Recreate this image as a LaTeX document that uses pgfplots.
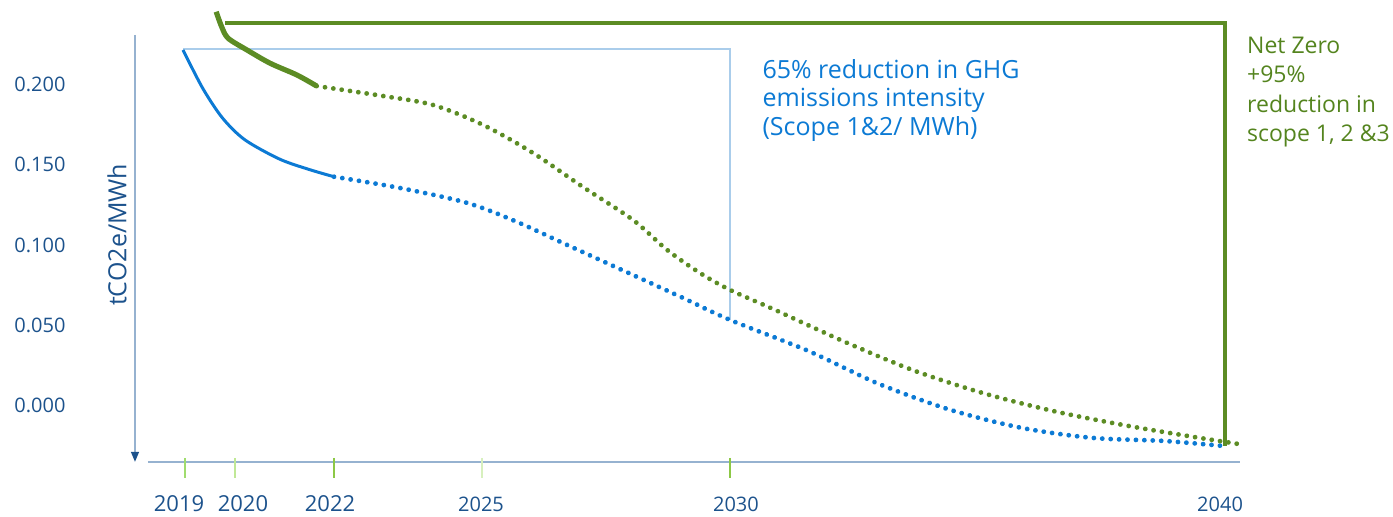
\documentclass[border=0pt]{standalone}
\usepackage{fontspec}
\setmainfont{Open Sans}
\usepackage{pgfplots}
\pgfplotsset{compat=1.18}
\usetikzlibrary{arrows.meta}
\definecolor{lblue}{RGB}{12,122,212}
\definecolor{gline}{RGB}{92,140,36}
\definecolor{gtext}{RGB}{84,132,30}
\definecolor{navy}{RGB}{28,82,140}
\definecolor{axisc}{RGB}{150,178,208}
\definecolor{boxblue}{RGB}{170,205,235}
\definecolor{tickA}{RGB}{160,220,110}
\definecolor{tickB}{RGB}{192,232,150}
\definecolor{tickC}{RGB}{140,200,70}
\definecolor{tickD}{RGB}{215,240,190}
\begin{document}
\begin{tikzpicture}
\path[use as bounding box] (0,0) rectangle (696.5pt,258.5pt);
\begin{axis}[
  at={(67.5pt,27.5pt)}, anchor=south west,
  scale only axis, width=552.5pt, height=213.5pt,
  xmin=2017.98, xmax=2040.303, ymin=-0.0352, ymax=0.2308,
  clip=false,
  axis line style={draw=none},
  tick style={draw=none},
  xtick={2018.87,2020.16,2021.92,2024.97,2030.12,2039.9},
  xticklabels={{\fontsize{11}{13}\selectfont 2019},{\fontsize{11}{13}\selectfont 2020},{\fontsize{11}{13}\selectfont 2022},2025,2030,2040},
  xticklabel style={anchor=center, yshift=-21pt, text=navy, font=\fontsize{10}{12}\selectfont},
  ytick={0,0.05,0.1,0.15,0.2},
  yticklabels={0.000,0.050,0.100,0.150,0.200},
  yticklabel style={anchor=center, xshift=-47.5pt, text=navy, font=\fontsize{10}{12}\selectfont},
  ylabel={tCO2e/MWh},
  ylabel style={at={(axis description cs:-0.0163,0.532)}, anchor=center, text=navy, font=\fontsize{12.5}{14}\selectfont},
  dotline/.style={line width=2.4pt, line cap=round, dash pattern=on 0.01pt off 4.2pt, smooth},
]
% axes decorations
\draw[axisc, line width=1pt] (axis cs:2018.24,-0.0352) -- (axis cs:2040.30,-0.0352);
\draw[axisc, line width=1pt, -{Triangle[length=5pt,width=3.8pt,color=navy]}] (axis cs:2017.98,0.2308) -- (axis cs:2017.98,-0.0352);
\draw[tickA, line width=1pt] (axis cs:2019,-0.0327) -- (axis cs:2019,-0.0452);
\draw[tickB, line width=1pt] (axis cs:2020,-0.0327) -- (axis cs:2020,-0.0452);
\draw[tickC, line width=1pt] (axis cs:2022,-0.0327) -- (axis cs:2022,-0.0452);
\draw[tickD, line width=1pt] (axis cs:2025,-0.0327) -- (axis cs:2025,-0.0452);
\draw[tickC, line width=1pt] (axis cs:2030,-0.0327) -- (axis cs:2030,-0.0452);
% target boxes
\addplot[boxblue, line width=0.8pt] coordinates {(2018.95,0.2222) (2030,0.2222) (2030,0.0533)};
\addplot[gline, line width=1.8pt] coordinates {(2019.8,0.2383) (2040,0.2383) (2040,-0.0252)};
% blue series
\addplot[lblue, line width=1.5pt, smooth] coordinates {(2018.95,0.2215) (2019.35,0.1975) (2019.75,0.1790) (2020.2,0.1655) (2020.9,0.1535) (2021.5,0.1470) (2022,0.1425)};
\addplot[lblue, dotline] coordinates {(2022,0.1425) (2023.33,0.1355) (2024.69,0.1262) (2025.70,0.1143) (2026.71,0.1000) (2028.04,0.0813) (2029.05,0.0670) (2030,0.0533) (2031.58,0.0340) (2033.01,0.0134) (2034.46,-0.0028) (2035.90,-0.0140) (2037.33,-0.0202) (2038.77,-0.0221) (2039.96,-0.0252)};
% green series
\addplot[gline, line width=2.6pt, smooth] coordinates {(2019.62,0.2453) (2019.73,0.2360) (2019.86,0.2288) (2020.24,0.2215) (2020.71,0.2132) (2021.25,0.2059) (2021.65,0.1990)};
\addplot[gline, dotline] coordinates {(2021.65,0.1990) (2022.99,0.1928) (2024.0,0.1872) (2025.01,0.1748) (2026.02,0.1573) (2027.03,0.1361) (2028.04,0.1156) (2028.73,0.0969) (2029.39,0.0826) (2030,0.0720) (2030.87,0.0601) (2032.30,0.0399) (2033.74,0.0215) (2035.17,0.0072) (2036.61,-0.0040) (2038.06,-0.0128) (2039.49,-0.0202) (2040.28,-0.0240)};
% annotations
\node[anchor=north west, align=left, text=lblue, font=\fontsize{12.5}{14.25}\selectfont, inner sep=0pt] at (axis cs:2030.65,0.2159) {65\% reduction in GHG\\emissions intensity\\(Scope 1\&2/ MWh)};
\node[anchor=north west, align=left, text=gtext, font=\fontsize{11.5}{14.6}\selectfont, inner sep=0pt] at (axis cs:2040.44,0.2296) {Net Zero\\+95\%\\reduction in\\scope 1, 2 \&3};
\end{axis}
\end{tikzpicture}
\end{document}
